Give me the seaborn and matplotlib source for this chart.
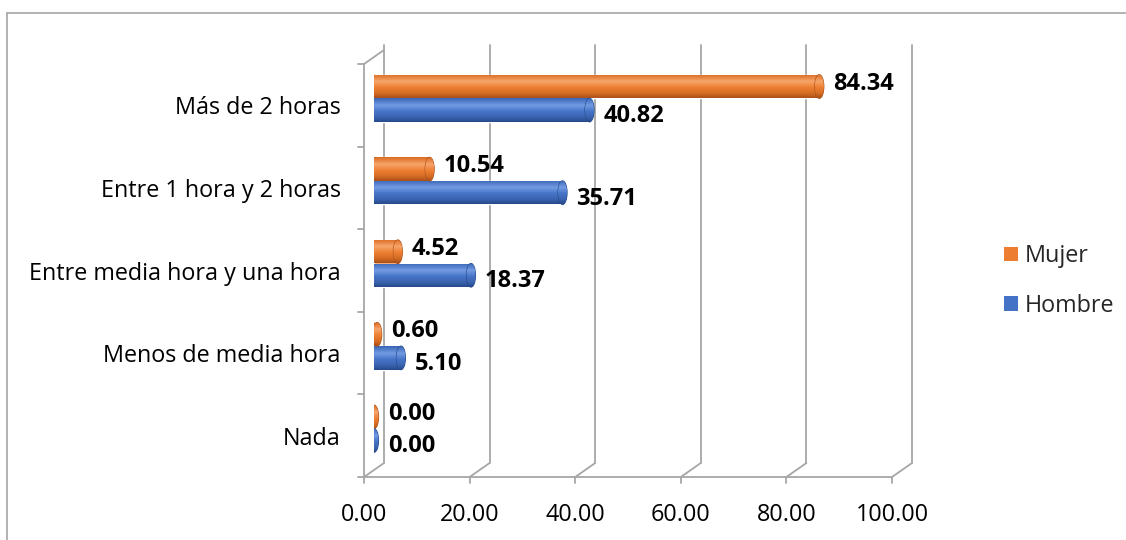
import numpy as np
import pandas as pd
import matplotlib
matplotlib.use("Agg")
import matplotlib.pyplot as plt
import seaborn as sns
from matplotlib.patches import Ellipse, Patch
from matplotlib.lines import Line2D
from matplotlib.colors import LinearSegmentedColormap
from matplotlib.transforms import ScaledTranslation

# ---------------- data ----------------
categorias = ["Más de 2 horas", "Entre 1 hora y 2 horas",
              "Entre media hora y una hora", "Menos de media hora", "Nada"]
mujer = [84.34, 10.54, 4.52, 0.60, 0.00]
hombre = [40.82, 35.71, 18.37, 5.10, 0.00]
series = ["Mujer", "Hombre"]
xticks = [0, 20, 40, 60, 80, 100]
xtick_labels = ["0.00", "20.00", "40.00", "60.00", "80.00", "100.00"]

colores = {"Mujer": "#ED7D31", "Hombre": "#4472C4"}
grad = {
    "Mujer": ["#DB6B22", "#F6A56B", "#EE8033", "#D66C24", "#A9501A"],
    "Hombre": ["#3966B6", "#739BE2", "#4675C8", "#3A64B0", "#264A8A"],
}

df = pd.DataFrame({
    "Categoría": categorias * 2,
    "Sexo": ["Mujer"] * len(categorias) + ["Hombre"] * len(categorias),
    "Valor": mujer + hombre,
})

sns.set_theme(style="white")
plt.rcParams["font.family"] = ["Open Sans", "DejaVu Sans"]

W, H = 1126, 540
fig = plt.figure(figsize=(W / 100, H / 100), dpi=100)
# middle depth plane (pixels)
x0p, x1p, ytp, ybp = 374, 902, 57, 470
ax = fig.add_axes([x0p / W, 1 - ybp / H, (x1p - x0p) / W, (ybp - ytp) / H])

sns.barplot(data=df, y="Categoría", x="Valor", hue="Sexo", hue_order=series,
            palette=colores, orient="h", width=0.57, ax=ax, legend=False,
            saturation=1, zorder=2)

ax.set_xlim(0, 100)
ax.set_ylim(4.5, -0.5)
for s in ax.spines.values():
    s.set_visible(False)
ax.set_xlabel("")
ax.set_ylabel("")

# pixel -> data conversions for the pseudo 3-D depth
px_x = 100 / (x1p - x0p)
px_y = 5 / (ybp - ytp)
dxd, dyd = 10 * px_x, 7 * px_y   # half depth

gc = "#A6A6A6"
glw = 1.3
ymin, ymax = -0.5, 4.5
top_ext = 5 * px_y
for xt in xticks:
    ax.add_line(Line2D([xt + dxd, xt + dxd], [ymin - dyd - top_ext, ymax - dyd], color=gc, lw=glw, zorder=0.5, clip_on=False))
    ax.add_line(Line2D([xt - dxd, xt + dxd], [ymax + dyd, ymax - dyd], color=gc, lw=glw, zorder=0.5, clip_on=False))
    ax.add_line(Line2D([xt - dxd, xt - dxd], [ymax + dyd, ymax + dyd + 6 * px_y], color=gc, lw=glw, zorder=0.5, clip_on=False))
ax.add_line(Line2D([-dxd, dxd], [ymin + dyd, ymin - dyd], color=gc, lw=glw, zorder=0.5, clip_on=False))
ax.add_line(Line2D([-dxd, -dxd], [ymin + dyd, ymax + dyd], color=gc, lw=glw, zorder=0.5, clip_on=False))
ax.add_line(Line2D([-dxd, 100 - dxd], [ymax + dyd, ymax + dyd], color=gc, lw=glw, zorder=0.5, clip_on=False))
for yb in np.arange(ymin, ymax + 0.01, 1.0):
    ax.add_line(Line2D([-dxd - 6 * px_x, -dxd], [yb + dyd, yb + dyd], color=gc, lw=glw, zorder=0.5, clip_on=False))

# ticks at front plane positions
ax.set_yticks(np.arange(len(categorias)) + dyd, categorias)
ax.set_xticks(xticks, xtick_labels)
ax.tick_params(axis="y", length=0, pad=24, labelsize=16.8, labelcolor="#000000")
ax.tick_params(axis="x", length=0, pad=24, labelsize=16.8, labelcolor="#000000")
shift = ScaledTranslation(-10 / 100, 0, fig.dpi_scale_trans)
for lbl in ax.get_xticklabels():
    lbl.set_transform(lbl.get_transform() + shift)

# ---- cylinder styling ----
cap_w = 9 * px_x
grad_arr = np.linspace(0, 1, 64).reshape(-1, 1)


def shaded(xa, xb, yt, yb, cmap, clip):
    im = ax.imshow(grad_arr, cmap=cmap, extent=(xa, xb, yb, yt), origin="upper",
                   aspect="auto", zorder=clip.get_zorder() + 0.01, interpolation="bilinear")
    im.set_clip_path(clip)


for sexo, cont in zip(series, ax.containers):
    cmap = LinearSegmentedColormap.from_list(sexo, list(zip([0, 0.3, 0.55, 0.8, 1.0], grad[sexo])))
    offy = -3 if sexo == "Mujer" else 6
    for rect in cont.patches:
        x0 = rect.get_x()
        w = rect.get_width()
        y0 = rect.get_y()
        h = rect.get_height()
        yc = y0 + h / 2
        rect.set_zorder(2)
        if w > 0:
            shaded(x0, x0 + w, y0, y0 + h, cmap, rect)
        el = Ellipse((x0, yc), cap_w, h, facecolor=colores[sexo], edgecolor="none", zorder=1.9)
        ax.add_patch(el)
        shaded(x0 - cap_w, x0 + cap_w, y0, y0 + h, cmap, el)
        er = Ellipse((x0 + w, yc), cap_w, h, facecolor=colores[sexo],
                     edgecolor=grad[sexo][4], lw=0.8, zorder=2.2)
        ax.add_patch(er)
        shaded(x0 + w - cap_w, x0 + w + cap_w, y0, y0 + h, cmap, er)
        ax.annotate(f"{w:.2f}", (x0 + w, yc), xytext=(14 * 0.72, -offy * 0.72),
                    textcoords="offset points", ha="left", va="center",
                    fontsize=17, fontweight="bold", color="#000000", zorder=3,
                    annotation_clip=False)

ax.set_xlim(0, 100)
ax.set_ylim(4.5, -0.5)

# legend
handles = [Patch(facecolor=colores[s], edgecolor="none") for s in series]
fig.legend(handles, series, loc="center left", bbox_to_anchor=(983 / W, 1 - 281 / H),
           frameon=False, handlelength=0.6, handleheight=0.6, labelspacing=1.1,
           handletextpad=0.3, fontsize=16.8)

# chart border
fig.add_artist(Line2D([7 / W, 7 / W], [0, 1 - 13 / H], transform=fig.transFigure, color="#A6A6A6", lw=1.2))
fig.add_artist(Line2D([7 / W, 1], [1 - 13 / H, 1 - 13 / H], transform=fig.transFigure, color="#A6A6A6", lw=1.2))

fig.savefig("out.png", dpi=100)
